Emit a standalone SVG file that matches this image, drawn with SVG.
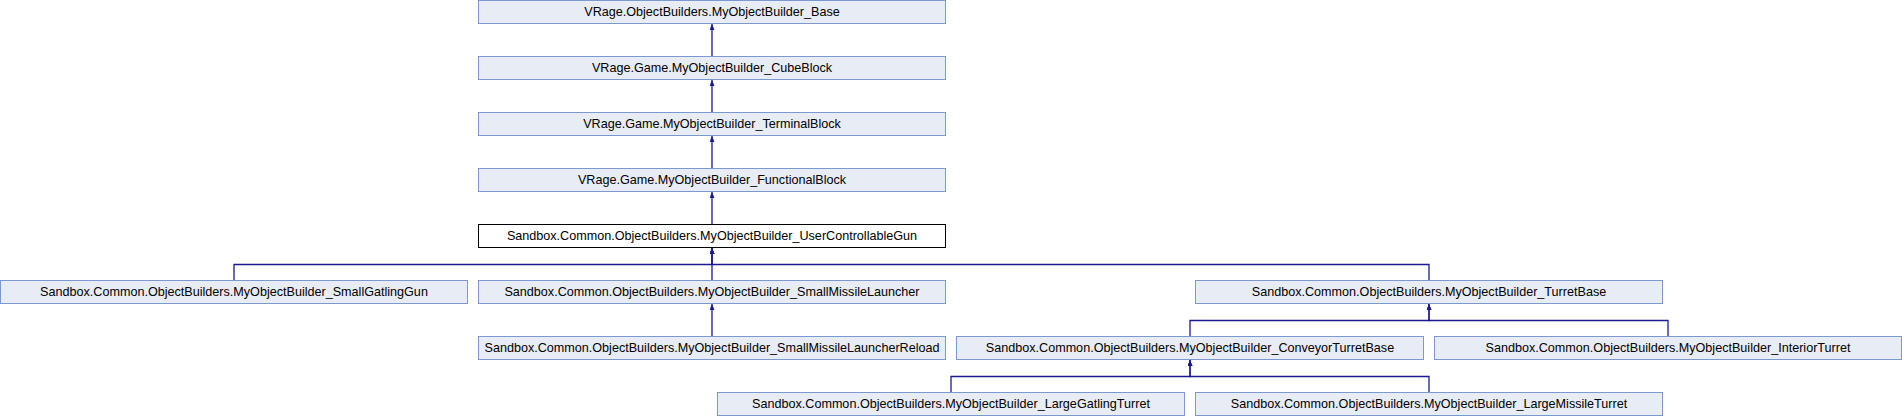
<svg xmlns="http://www.w3.org/2000/svg" width="1902" height="416" viewBox="0 0 1902 416">
<style>
.n rect{fill:#e8ecf4;stroke:#7c98d0;stroke-width:1}
.n.cur rect{fill:#ffffff;stroke:#000000}
.n text{font-family:"Liberation Sans",Arial,Helvetica,sans-serif;font-size:12.6px;fill:#000;text-anchor:middle}
.e path{fill:none;stroke:#1b1b8f;stroke-width:1.3;marker-start:url(#ah)}
</style>
<defs>
<marker id="ah" viewBox="0 0 6 5" refX="6" refY="2.5" markerWidth="6" markerHeight="5" markerUnits="userSpaceOnUse" orient="auto-start-reverse">
<path d="M0,0 L6,2.5 L0,5 z" fill="#1b1b8f" stroke="none"/>
</marker>
</defs>
<rect width="1902" height="416" fill="#ffffff"/>
<g id="edges" class="e">
<path d="M712,24 V56.5"/>
<path d="M712,80 V112.5"/>
<path d="M712,136 V168.5"/>
<path d="M712,192 V224.5"/>
<path d="M712,248 V280.5"/>
<path d="M712,248 V264.5 H234 V280.5"/>
<path d="M712,248 V264.5 H1429 V280.5"/>
<path d="M712,304 V336.5"/>
<path d="M1429,304 V320.5 H1190 V336.5"/>
<path d="M1429,304 V320.5 H1668 V336.5"/>
<path d="M1190,360 V376.5 H951 V392.5"/>
<path d="M1190,360 V376.5 H1429 V392.5"/>
</g>
<g id="node_base" class="n"><rect x="478.5" y="0.5" width="467" height="23"/><text x="712" y="16">VRage.ObjectBuilders.MyObjectBuilder_Base</text></g>
<g id="node_cubeblock" class="n"><rect x="478.5" y="56.5" width="467" height="23"/><text x="712" y="72">VRage.Game.MyObjectBuilder_CubeBlock</text></g>
<g id="node_terminalblock" class="n"><rect x="478.5" y="112.5" width="467" height="23"/><text x="712" y="128">VRage.Game.MyObjectBuilder_TerminalBlock</text></g>
<g id="node_functionalblock" class="n"><rect x="478.5" y="168.5" width="467" height="23"/><text x="712" y="184">VRage.Game.MyObjectBuilder_FunctionalBlock</text></g>
<g id="node_usercontrollablegun" class="n cur"><rect x="478.5" y="224.5" width="467" height="23"/><text x="712" y="240">Sandbox.Common.ObjectBuilders.MyObjectBuilder_UserControllableGun</text></g>
<g id="node_smallgatlinggun" class="n"><rect x="0.5" y="280.5" width="467" height="23"/><text x="234" y="296">Sandbox.Common.ObjectBuilders.MyObjectBuilder_SmallGatlingGun</text></g>
<g id="node_smallmissilelauncher" class="n"><rect x="478.5" y="280.5" width="467" height="23"/><text x="712" y="296">Sandbox.Common.ObjectBuilders.MyObjectBuilder_SmallMissileLauncher</text></g>
<g id="node_turretbase" class="n"><rect x="1195.5" y="280.5" width="467" height="23"/><text x="1429" y="296">Sandbox.Common.ObjectBuilders.MyObjectBuilder_TurretBase</text></g>
<g id="node_smallmissilelauncherreload" class="n"><rect x="478.5" y="336.5" width="467" height="23"/><text x="712" y="352">Sandbox.Common.ObjectBuilders.MyObjectBuilder_SmallMissileLauncherReload</text></g>
<g id="node_conveyorturretbase" class="n"><rect x="956.5" y="336.5" width="467" height="23"/><text x="1190" y="352">Sandbox.Common.ObjectBuilders.MyObjectBuilder_ConveyorTurretBase</text></g>
<g id="node_interiorturret" class="n"><rect x="1434.5" y="336.5" width="467" height="23"/><text x="1668" y="352">Sandbox.Common.ObjectBuilders.MyObjectBuilder_InteriorTurret</text></g>
<g id="node_largegatlingturret" class="n"><rect x="717.5" y="392.5" width="467" height="23"/><text x="951" y="408">Sandbox.Common.ObjectBuilders.MyObjectBuilder_LargeGatlingTurret</text></g>
<g id="node_largemissileturret" class="n"><rect x="1195.5" y="392.5" width="467" height="23"/><text x="1429" y="408">Sandbox.Common.ObjectBuilders.MyObjectBuilder_LargeMissileTurret</text></g>
</svg>
